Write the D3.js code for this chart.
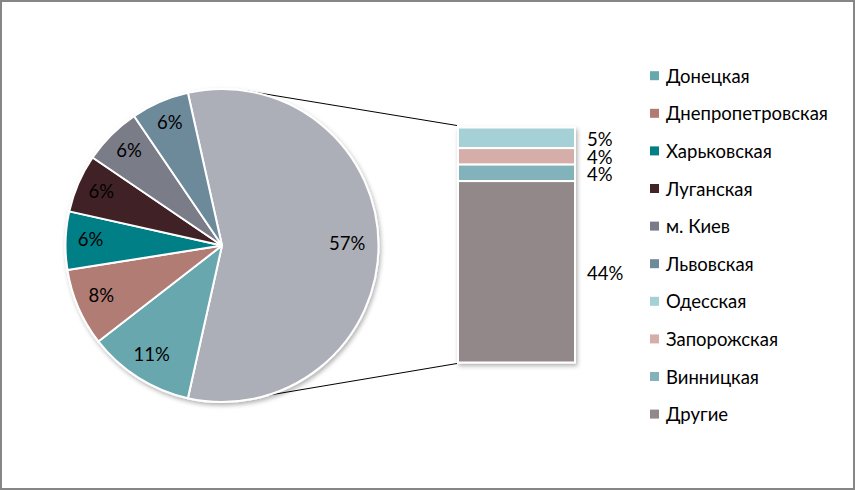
<!DOCTYPE html>
<html>
<head>
<meta charset="utf-8">
<script src="https://cdn.jsdelivr.net/npm/d3@7"></script>
<style>
  html, body { margin: 0; padding: 0; background: #fff; }
  svg { display: block; }
  text { font-family: Lato, "Open Sans", sans-serif; fill: #000; }
</style>
</head>
<body>
<svg id="chart" width="855" height="490"></svg>
<script>
// ---- data ----
const pieCategories = ["Другие (всего)", "Донецкая", "Днепропетровская", "Харьковская", "Луганская", "м. Киев", "Львовская"];
const pieValues = [57, 11, 8, 6, 6, 6, 6];
const pieColors = ["#ADAFB8", "#67A7AE", "#B07B73", "#007F86", "#412426", "#7A7B88", "#6D8A9B"];

const barCategories = ["Одесская", "Запорожская", "Винницкая", "Другие"];
const barValues = [5, 4, 4, 44];
const barColors = ["#A5D0D6", "#D5AEAA", "#82B3BA", "#928889"];

const legendCategories = ["Донецкая", "Днепропетровская", "Харьковская", "Луганская", "м. Киев", "Львовская", "Одесская", "Запорожская", "Винницкая", "Другие"];
const legendColors = ["#67A7AE", "#B07B73", "#007F86", "#412426", "#7A7B88", "#6D8A9B", "#A5D0D6", "#D5AEAA", "#82B3BA", "#928889"];

// ---- layout ----
const W = 855, H = 490;
const FS = "18.5px";
const svg = d3.select("#chart");

const defs = svg.append("defs");
const f = defs.append("filter").attr("id", "shadow").attr("x", "-10%").attr("y", "-10%").attr("width", "130%").attr("height", "130%");
f.append("feDropShadow").attr("dx", 1.5).attr("dy", 2.5).attr("stdDeviation", 2).attr("flood-color", "#000").attr("flood-opacity", 0.3);

// outer frame
svg.append("rect").attr("x", 1).attr("y", 1).attr("width", W - 2).attr("height", H - 2)
  .attr("fill", "#fff").attr("stroke", "#868686").attr("stroke-width", 2);

// ---- pie ----
const cx = 222, cy = 245.5, R = 156.5;
const total = d3.sum(pieValues);
const otherFrac = pieValues[0] / total;
const start = Math.PI / 2 - otherFrac * Math.PI;
const pie = d3.pie().sort(null).startAngle(start).endAngle(start + 2 * Math.PI);
const arcs = pie(pieValues);
const arc = d3.arc().innerRadius(0).outerRadius(R);
const labelArc = d3.arc().innerRadius(R * 0.84).outerRadius(R * 0.84);

// bar scale
const barX0 = 458, barW = 117, barTop = 127.5, barBottom = 362.5;
const y = d3.scaleLinear().domain([0, d3.sum(barValues)]).range([barBottom, barTop]);

// connector lines (from pie edge to bar corners)
const aTop = 9.4 * Math.PI / 180, aBot = 163.5 * Math.PI / 180;
const gLines = svg.append("g");
gLines.append("line")
  .attr("x1", cx + R * Math.sin(aTop)).attr("y1", cy - R * Math.cos(aTop))
  .attr("x2", barX0 - 1).attr("y2", y(d3.sum(barValues)) - 2)
  .attr("stroke", "#000").attr("stroke-width", 1);
gLines.append("line")
  .attr("x1", cx + R * Math.sin(aBot)).attr("y1", cy - R * Math.cos(aBot))
  .attr("x2", barX0 - 1).attr("y2", y(0) + 1)
  .attr("stroke", "#000").attr("stroke-width", 1);

const gPie = svg.append("g").attr("transform", `translate(${cx},${cy})`).attr("filter", "url(#shadow)");
gPie.selectAll("path").data(arcs).join("path")
  .attr("d", arc)
  .attr("fill", (d, i) => pieColors[i])
  .attr("stroke", "#fff").attr("stroke-width", 2).attr("stroke-linejoin", "round");

const gPieLab = svg.append("g").attr("transform", `translate(${cx},${cy})`);
gPieLab.selectAll("text").data(arcs).join("text")
  .attr("transform", (d, i) => {
    const c = (i === 0 ? d3.arc().innerRadius(R * 0.80).outerRadius(R * 0.80) : labelArc).centroid(d);
    return `translate(${c[0]},${c[1] - 2.5})`;
  })
  .attr("text-anchor", "middle").attr("dominant-baseline", "central")
  .style("font-size", FS)
  .text(d => d3.format(".0f")(d.data / total * 100) + "%");

// ---- stacked bar ----
let cum = d3.sum(barValues);
const segs = barValues.map((v, i) => { const top = cum; cum -= v; return { v, i, top, bottom: cum }; });
const gBar = svg.append("g").attr("filter", "url(#shadow)");
gBar.selectAll("rect").data(segs).join("rect")
  .attr("x", barX0).attr("width", barW)
  .attr("y", d => y(d.top)).attr("height", d => y(d.bottom) - y(d.top))
  .attr("fill", d => barColors[d.i])
  .attr("stroke", "#fff").attr("stroke-width", 2);

svg.append("g").selectAll("text").data(segs).join("text")
  .attr("x", barX0 + barW + 12)
  .attr("y", d => (y(d.top) + y(d.bottom)) / 2 + 1)
  .attr("dominant-baseline", "central")
  .style("font-size", FS)
  .text(d => d3.format(".0f")(d.v / total * 100) + "%");

// ---- legend ----
const legY0 = 75.7, legStep = 37.6;
const gLeg = svg.append("g");
const items = gLeg.selectAll("g").data(legendCategories).join("g")
  .attr("transform", (d, i) => `translate(650,${legY0 + i * legStep})`);
items.append("rect").attr("x", 0).attr("y", -4.5).attr("width", 9).attr("height", 9)
  .attr("fill", (d, i) => legendColors[i]);
items.append("text").attr("x", 16).attr("y", 0).attr("dominant-baseline", "central")
  .style("font-size", FS).text(d => d);
</script>
</body>
</html>
